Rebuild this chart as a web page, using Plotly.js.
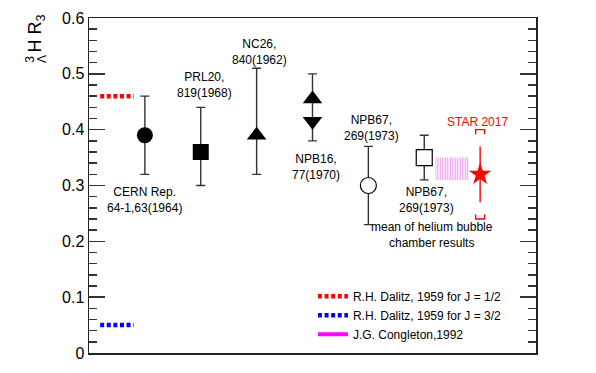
<!DOCTYPE html>
<html><head><meta charset="utf-8">
<script src="https://cdn.plot.ly/plotly-3.0.1.min.js"></script>
<style>html,body{margin:0;padding:0;background:#fff;}#chart{width:596px;height:373px;}</style>
</head><body><div id="chart"></div>
<script>
// ---- data ----
const expLabels = ['CERN Rep.<br>64-1,63(1964)', 'PRL20,<br>819(1968)', 'NC26,<br>840(1962)', 'NPB16,<br>77(1970)', 'NPB67,<br>269(1973)', 'NPB67,<br>269(1973)'];
const expX = [1, 2, 3, 4, 5, 6];
const expY = [0.39, 0.36, 0.39, 0.44, 0.30, 0.35];
const expErrPlus = [0.07, 0.08, 0.12, 0.06, 0.07, 0.04];
const expErrMinus = [0.07, 0.06, 0.07, 0.06, 0.07, 0.04];
const expSymbols = ['circle', 'square', 'triangle-up', 'circle', 'circle', 'square'];
const expFill = ['black', 'black', 'black', 'black', 'white', 'white'];
const expSize = [16, 16, 17, 0, 16, 16];
const expOutline = [0, 0, 0, 0, 1.2, 1.2];

const npb16X = [4, 4];
const npb16Y = [0.455, 0.415];
const npb16Symbols = ['triangle-up', 'triangle-down'];

const starX = 7, starY = 0.32, starStat = 0.05, starSyst = 0.08;
const starLabel = 'STAR 2017';

const dalitzX = [0.2, 0.8];
const dalitzHalf = 0.46, dalitzThreeHalf = 0.05;
const congletonX = [6.2, 6.8];
const congletonY = [0.31, 0.35];
const meanLabel = 'mean of helium bubble<br>chamber results';

const legendNames = ['R.H. Dalitz, 1959 for J = 1/2', 'R.H. Dalitz, 1959 for J = 3/2', 'J.G. Congleton,1992'];
const yTickVals = [0, 0.1, 0.2, 0.3, 0.4, 0.5, 0.6];
const yTickText = ['0', '0.1', '0.2', '0.3', '0.4', '0.5', '0.6'];

// ---- traces ----
const FONT = 'Liberation Sans, Arial, Helvetica, sans-serif';
const dotDash = '4px,2.6px';
const traces = [];

traces.push({x: dalitzX, y: [dalitzHalf, dalitzHalf], mode: 'lines', name: legendNames[0],
  line: {color: '#ff0000', width: 4.5, dash: dotDash}, hoverinfo: 'skip'});
traces.push({x: dalitzX, y: [dalitzThreeHalf, dalitzThreeHalf], mode: 'lines', name: legendNames[1],
  line: {color: '#0000ff', width: 4.5, dash: dotDash}, hoverinfo: 'skip'});
traces.push({x: [null], y: [null], mode: 'lines', name: legendNames[2],
  line: {color: '#ff00ff', width: 4}});
// Congleton band (hatched)
traces.push({x: [congletonX[0], congletonX[1], congletonX[1], congletonX[0], congletonX[0]],
  y: [congletonY[0], congletonY[0], congletonY[1], congletonY[1], congletonY[0]],
  mode: 'lines', fill: 'toself', line: {width: 0, color: 'rgba(0,0,0,0)'},
  fillcolor: 'rgba(0,0,0,0)',
  fillpattern: {shape: '|', fgcolor: '#f29af2', bgcolor: 'rgba(0,0,0,0)', size: 2.5, solidity: 0.5},
  showlegend: false, hoverinfo: 'skip'});
// experiments
traces.push({x: expX, y: expY, mode: 'markers', showlegend: false,
  error_y: {type: 'data', symmetric: false, array: expErrPlus, arrayminus: expErrMinus,
    color: '#333', thickness: 1.4, width: 4.5},
  marker: {symbol: expSymbols, size: expSize, color: expFill, opacity: 1,
    line: {color: 'black', width: expOutline}}});
traces.push({x: npb16X, y: npb16Y, mode: 'markers', showlegend: false,
  marker: {symbol: npb16Symbols, size: 17, color: 'black', opacity: 1}});
// STAR
traces.push({x: [starX], y: [starY], mode: 'markers', showlegend: false,
  error_y: {type: 'data', array: [starStat], color: '#ff0000', thickness: 1.4, width: 0},
  marker: {symbol: 'star', size: 17, color: '#ff0000', opacity: 1}});
const bw = 0.08, leg = 0.008;
const systTop = starY + starSyst, systBot = starY - starSyst;
traces.push({x: [starX - bw, starX - bw, starX + bw, starX + bw, null, starX - bw, starX - bw, starX + bw, starX + bw],
  y: [systTop - leg, systTop, systTop, systTop - leg, null, systBot + leg, systBot, systBot, systBot + leg],
  mode: 'lines', line: {color: '#ff0000', width: 1.4}, showlegend: false, hoverinfo: 'skip'});

// ---- annotations ----
const labelPos = [[1.0, 0.274], [2.075, 0.48], [3.06, 0.54], [4.06, 0.333], [5.06, 0.403], [6.04, 0.274]];
const annotations = expLabels.map((t, i) => ({x: labelPos[i][0], y: labelPos[i][1], xref: 'x', yref: 'y',
  text: t, showarrow: false, font: {family: FONT, size: 12, color: 'black'}, xanchor: 'center', yanchor: 'middle'}));
annotations.push({x: 6.14, y: 0.212, xref: 'x', yref: 'y', text: meanLabel, showarrow: false,
  xanchor: 'center', yanchor: 'middle', font: {family: FONT, size: 12, color: 'black'}});
annotations.push({x: 6.95, y: 0.414, xref: 'x', yref: 'y', text: starLabel, showarrow: false,
  xanchor: 'center', yanchor: 'middle', font: {family: FONT, size: 12, color: '#ff0000'}});
// y-axis title pieces
annotations.push({x: -0.117, y: 0.953, xref: 'paper', yref: 'paper', text: 'H R<sub>3</sub>', textangle: -90,
  xanchor: 'center', yanchor: 'middle', showarrow: false, font: {family: FONT, size: 18, color: 'black'}});
annotations.push({x: -0.132, y: 0.878, xref: 'paper', yref: 'paper', text: '3', textangle: -90,
  xanchor: 'center', yanchor: 'middle', showarrow: false, font: {family: FONT, size: 12, color: 'black'}});
annotations.push({x: -0.105, y: 0.878, xref: 'paper', yref: 'paper', text: 'Λ', textangle: -90,
  xanchor: 'center', yanchor: 'middle', showarrow: false, font: {family: FONT, size: 12, color: 'black'}});

const layout = {
  width: 596, height: 373,
  margin: {l: 89, r: 60, t: 18, b: 20},
  paper_bgcolor: 'white', plot_bgcolor: 'white',
  font: {family: FONT, color: 'black'},
  showlegend: true,
  legend: {x: 0.501, xanchor: 'left', y: 0.213, yanchor: 'top', bgcolor: 'rgba(0,0,0,0)',
    font: {family: FONT, size: 12, color: 'black'}, tracegroupgap: 0},
  xaxis: {range: [0, 8], showline: true, mirror: true, linecolor: '#222', linewidth: 1.5,
    showticklabels: false, ticks: '', showgrid: false, zeroline: false, fixedrange: true},
  yaxis: {range: [0, 0.6], tickvals: yTickVals, ticktext: yTickText, ticks: 'inside', ticklen: 16,
    tickwidth: 1.5, tickcolor: '#333', showline: true, mirror: 'ticks', linecolor: '#222', linewidth: 1.5,
    showgrid: false, zeroline: false, tickfont: {family: FONT, size: 16, color: 'black'},
    minor: {dtick: 0.02, tick0: 0, ticks: 'inside', ticklen: 8, tickwidth: 1.5, tickcolor: '#333', showgrid: false},
    fixedrange: true},
  annotations: annotations
};
Plotly.newPlot('chart', traces, layout, {staticPlot: true, displayModeBar: false});
</script>
</body></html>
